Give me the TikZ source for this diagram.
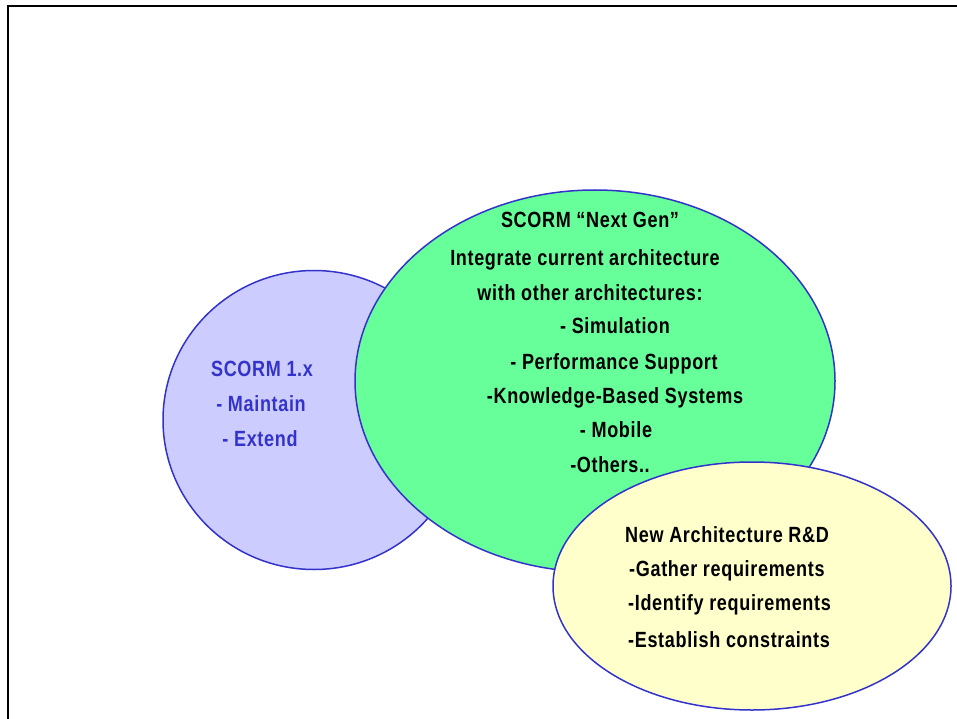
\documentclass[tikz,border=0pt]{standalone}
\usepackage{fontspec}
\setmainfont[FakeStretch=0.82,LetterSpace=3]{Liberation Sans}
\usetikzlibrary{shapes.geometric}
\definecolor{edgeblue}{HTML}{3333CC}
\definecolor{lilac}{HTML}{CCCCFF}
\definecolor{mint}{HTML}{66FF99}
\definecolor{cream}{HTML}{FFFFCC}
\begin{document}
\begin{tikzpicture}[x=1pt,y=-1pt,
  blob/.style={ellipse,draw=edgeblue,line width=1.5pt,inner sep=0pt},
  txt/.style={font=\fontsize{22}{22}\selectfont\bfseries,inner sep=0pt,anchor=base},
  ltxt/.style={txt,anchor=base west},
  ptxt/.style={txt,text=edgeblue}]
\useasboundingbox (0,0) rectangle (957,719);
\clip (0,0) rectangle (957,719);
\draw[line width=2.5pt] (8,6) rectangle (990,760);
\node[blob,fill=lilac,minimum width=302pt,minimum height=299pt] (old) at (314,420) {};
\node[blob,fill=mint,minimum width=480pt,minimum height=382pt] (next) at (595,381) {};
\node[blob,fill=cream,minimum width=398pt,minimum height=248pt] (rnd) at (752,586) {};
% left ellipse text
\node[ptxt] (o1) at (262,376) {SCORM 1.x};
\node[ptxt] (o2) at (261,411) {- Maintain};
\node[ptxt] (o3) at (260,446) {- Extend};
% green text
\node[txt] (n1) at (590,227) {SCORM “Next Gen”};
\node[txt] (n2) at (585,265) {Integrate current architecture};
\node[txt] (n3) at (590,300) {with other architectures:};
\node[txt] (n4) at (615,333) {- Simulation};
\node[txt] (n5) at (614,369) {- Performance Support};
\node[txt] (n6) at (615,403) {-Knowledge-Based Systems};
\node[txt] (n7) at (616,437) {- Mobile};
\node[txt] (n8) at (610,472) {-Others..};
% yellow text
\node[ltxt] (r1) at (625,542) {New Architecture R\&D};
\node[ltxt] (r2) at (629,576) {-Gather requirements};
\node[ltxt] (r3) at (628,610) {-Identify requirements};
\node[ltxt] (r4) at (628,647) {-Establish constraints};
\end{tikzpicture}
\end{document}
